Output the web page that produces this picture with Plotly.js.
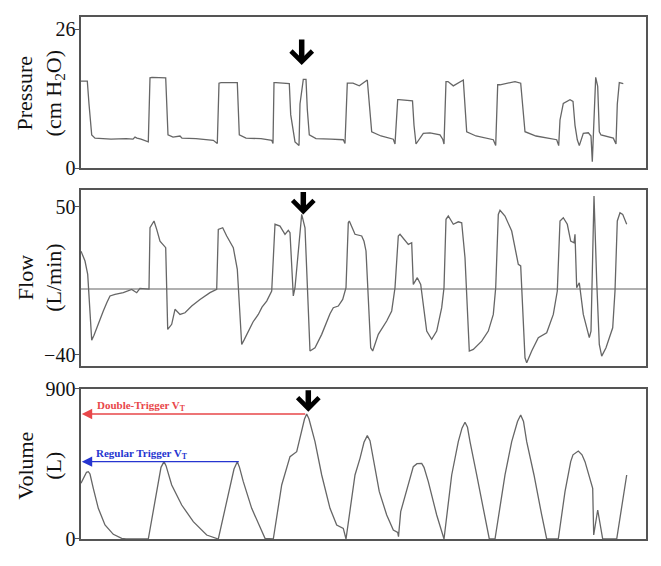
<!DOCTYPE html>
<html>
<head>
<meta charset="utf-8">
<script src="https://cdn.plot.ly/plotly-3.0.1.min.js"></script>
<style>
html,body{margin:0;padding:0;background:#fff;}
#chart{width:661px;height:566px;}
</style>
</head>
<body>
<div id="chart"></div>
<script>
// Time in samples (shared x axis)
const pressureT = [0,6.3,8,10.7,14,30,45,52,54,56,60,66,67.3,69,71,84.7,85.7,87,92,97,99,101,115,132.3,136.3,138,140,156.3,157.3,158.3,165,180,190.7,192,193,195,208.3,209.7,214,218,219,222.3,225,226.3,228.3,235,250,262.3,264,266.3,272,278.3,286.3,288.3,290.7,300,312.3,314,316.7,318,330.7,331.5,333,335,342.3,349,359,361.7,363,365,367,372.3,382.3,384,385.7,395,412.3,414.7,416.7,419,434,439.7,441.7,444,455,475.7,477.7,479,482.3,489,492,494,496.3,498.3,502.3,507.3,510,511.3,514.7,516.7,518.3,520,532.3,535,536.3,538.3,542.3];
const pressureV = [16.3,16.3,12,6.2,5.6,5.4,5.5,5.4,5.8,5.6,5.4,5.0,4.9,16.9,17.0,16.9,12,6.2,5.8,5.9,6.0,5.6,5.5,5.2,4.6,15.9,16.0,16.0,12,6.2,5.6,5.5,5.2,4.6,16.0,16.0,15.8,10,4.9,4.2,12,16.6,16.6,11,6.2,5.5,5.4,5.3,4.6,15.9,15.9,15.4,16.5,12,6.8,6.0,5.4,4.5,12.8,12.8,12.6,12.6,8,4.5,6.5,6.6,6.2,5.4,4.5,16.2,16.2,15.4,16.5,12,6.8,6.0,5.3,4.2,15.6,15.6,16.2,15.9,12,6.8,6.0,5.3,4.2,9,12.1,12.8,12.5,8,5.3,4.2,6.5,6.6,6.0,1.2,17.0,15.3,6.8,6.2,5.6,4.5,12,16.0,15.8];

const flowT = [0,4,6.7,10.7,13,15.7,19,22.3,26,29,34,42.3,50.7,55.7,59,68,69,73,75.7,79,84.7,86.7,90.7,94,99,104,110.7,119,129,135.7,137.3,141.7,145.7,152.3,156.3,160.7,163,167.3,172,177.3,181,185.7,188,190.7,194,199,204,207.3,209,212.3,214,218,220.7,224,229,234,240.7,249,252.3,257.3,261.7,265,267.3,268.3,270,274,280.7,283,285,289.7,291.7,297.3,305.7,310.7,314,317.3,319,327.3,330.7,332.3,336.3,339.7,345.7,350.7,355.7,360.7,363,365,367.3,372.3,377.3,380.7,384,388.3,392.3,400.7,407.3,412.3,414.7,417.3,419,424,430.7,437.3,439.7,444,445.7,450.7,457.3,465.7,472.3,476.3,479,482.3,486.3,489.7,493,494,495.7,498.3,502.3,505.7,508.3,510,513,515.7,518.3,520.7,525,531.7,534,536.3,539,541.7,545.7];
const flowV = [23,17,8.9,-31,-28,-23.5,-18,-13.3,-8,-4.2,-3.2,-2.2,-0.2,-2.2,0.4,0,37.2,41.3,36.2,29.1,25.1,-24.5,-21.4,-12.3,-15.4,-14.4,-10.3,-6.3,-2.2,-0.2,36.2,37.2,32.2,25.1,12,-33.6,-31,-25.5,-20,-15.4,-11,-7.3,-4,-1.2,39.3,38.2,33.2,35.6,34.2,-4.2,0.8,25,45.3,37.2,-37.6,-35.6,-27.5,-15,-11.3,-10.3,-6.3,0.8,40.2,41.3,39,33.2,32.2,29,23.1,-35.6,-37.6,-27.5,-19.4,-13.3,0.8,32.2,33.2,27.1,28.1,2.8,6.9,2.8,-25.5,-30.5,-25.5,-11.3,0.8,42.3,44.3,39.3,40.8,40.2,19,-37.6,-36.6,-31.6,-25.5,-15.4,0.8,45.3,47.8,44.3,35.2,15,14,-41.7,-44.7,-37.6,-29.5,-26.5,-15.4,-1.2,41.3,43.3,39.3,29.1,28.1,33.2,0.8,3.8,-15.4,-23.5,-29.5,-25.5,56.4,4.9,-33.6,-40.7,-35.6,-23.5,-1.2,41.3,46.3,45.3,39.3];

const volumeT = [0,3,5.5,7.3,9,12.3,17.3,24,32.3,40.7,45,67.3,80,83,85,90.7,100.7,112.3,125.7,137.3,153,156.3,158.5,162.3,170.7,184,192.3,200.7,209,215.7,220.7,223.5,225.7,228,234,240.7,249,255.7,262.3,265,274,279,283,286.3,289,291.7,298.3,305.7,312.3,316.7,317.5,319.7,327.3,332.3,336,340.7,343,347.3,355.7,363,370.7,377.3,381,384,386.5,389,395.7,404,408.3,414,424,430.7,436.5,439.7,442.5,445.7,453,460.7,465.7,477.3,484,489.7,492,497.3,501,504,511.7,512.7,516.7,521.7,535.7,545.7];
const volumeV = [334,370,400,404,390,304,184,84,28,4,0,0,430,464,440,324,204,104,24,0,420,464,430,344,184,4,0,324,494,524,644,720,750,720,584,384,184,84,64,0,384,484,580,620,590,504,284,144,54,40,14,164,324,434,452,454,430,344,144,0,384,584,665,700,670,584,384,144,0,0,384,584,705,744,705,584,384,144,0,0,284,464,505,528,505,464,304,24,174,0,0,384];

// Reference levels and markers
const doubleTriggerVT = 750, doubleTriggerT = 225.7;
const regularTriggerVT = 464, regularTriggerT = 159.3;
const markerT = [220.7, 222.3, 227.3];       // x of the bold arrows (pressure, flow, volume)
const markerTip = [19.3, 45.3, 764];         // arrow tip values in each panel
const markerLen = [-27, -24, -23];

const font = 'Liberation Serif, Times New Roman, serif';
const lineCol = '#555';
const traceCol = '#666';

const traces = [
  {x: pressureT, y: pressureV, xaxis: 'x', yaxis: 'y', mode: 'lines', line: {color: traceCol, width: 1.3}, hoverinfo: 'skip'},
  {x: flowT, y: flowV, xaxis: 'x2', yaxis: 'y2', mode: 'lines', line: {color: traceCol, width: 1.3}, hoverinfo: 'skip'},
  {x: volumeT, y: volumeV, xaxis: 'x3', yaxis: 'y3', mode: 'lines', line: {color: traceCol, width: 1.3}, hoverinfo: 'skip'}
];

function xax(anchor) {
  const a = {range: [0, 565], anchor: anchor, showline: true, mirror: true, linecolor: lineCol, linewidth: 1.6,
    showticklabels: false, ticks: '', showgrid: false, zeroline: false};
  if (anchor !== 'y') a.matches = 'x';
  return a;
}
function yax(range, vals, domain, anchor, zl) {
  return {range: range, domain: domain, anchor: anchor, tickvals: vals, ticks: 'outside', ticklen: 4, tickcolor: lineCol,
    ticklabelstandoff: -4,
    showline: true, mirror: true, linecolor: lineCol, linewidth: 1.6, showgrid: false,
    zeroline: !!zl, zerolinecolor: '#b0b0b0', zerolinewidth: 1.6,
    tickfont: {family: font, size: 20, color: '#111'}};
}

const panelTitles = [
  {text: 'Pressure<br>(cm H<sub>2</sub>O)', y: 0.855},
  {text: 'Flow<br>(L/min)', y: 0.50},
  {text: 'Volume<br>(L)', y: 0.14}
];

const annotations = [];
panelTitles.forEach(function (p) {
  annotations.push({xref: 'paper', yref: 'paper', x: -0.073, y: p.y, xanchor: 'center', yanchor: 'middle',
    text: p.text, textangle: -90, showarrow: false, font: {family: font, size: 22, color: '#111'}});
});
const axesPairs = [['x', 'y'], ['x2', 'y2'], ['x3', 'y3']];
markerT.forEach(function (t, i) {
  annotations.push({xref: axesPairs[i][0], yref: axesPairs[i][1], x: t, y: markerTip[i], ax: 0, ay: markerLen[i],
    text: '', showarrow: true, arrowhead: 4, arrowsize: 0.75, arrowwidth: 5.5, arrowcolor: '#000'});
});
annotations.push({xref: 'x3', yref: 'y3', axref: 'x3', ayref: 'y3', x: 0.8, y: doubleTriggerVT, ax: doubleTriggerT, ay: doubleTriggerVT,
  text: '', showarrow: true, arrowhead: 2, arrowsize: 1.6, arrowwidth: 1.3, arrowcolor: '#e8474a'});
annotations.push({xref: 'x3', yref: 'y3', axref: 'x3', ayref: 'y3', x: 0.8, y: regularTriggerVT, ax: regularTriggerT, ay: regularTriggerVT,
  text: '', showarrow: true, arrowhead: 2, arrowsize: 1.6, arrowwidth: 1.3, arrowcolor: '#2635d0'});
annotations.push({xref: 'x3', yref: 'y3', x: 13.5, y: 800, xanchor: 'left', yanchor: 'middle', showarrow: false,
  text: '<b>Double-Trigger V<sub>T</sub></b>', font: {family: font, size: 11, color: '#e8474a'}});
annotations.push({xref: 'x3', yref: 'y3', x: 13, y: 512, xanchor: 'left', yanchor: 'middle', showarrow: false,
  text: '<b>Regular Trigger V<sub>T</sub></b>', font: {family: font, size: 11, color: '#2635d0'}});

const layout = {
  width: 661, height: 566,
  margin: {l: 81, r: 15, t: 17, b: 27},
  paper_bgcolor: '#fff', plot_bgcolor: '#fff',
  showlegend: false,
  xaxis: xax('y'), xaxis2: xax('y2'), xaxis3: xax('y3'),
  yaxis: yax([0, 28.3], [0, 26], [0.7107, 1], 'x'),
  yaxis2: yax([-46.7, 60.1], [-40, 50], [0.3314, 0.6686], 'x2', true),
  yaxis3: yax([0, 900], [0, 900], [0, 0.2874], 'x3'),
  annotations: annotations,
  font: {family: font}
};

Plotly.newPlot('chart', traces, layout, {staticPlot: true, displayModeBar: false});
</script>
</body>
</html>
